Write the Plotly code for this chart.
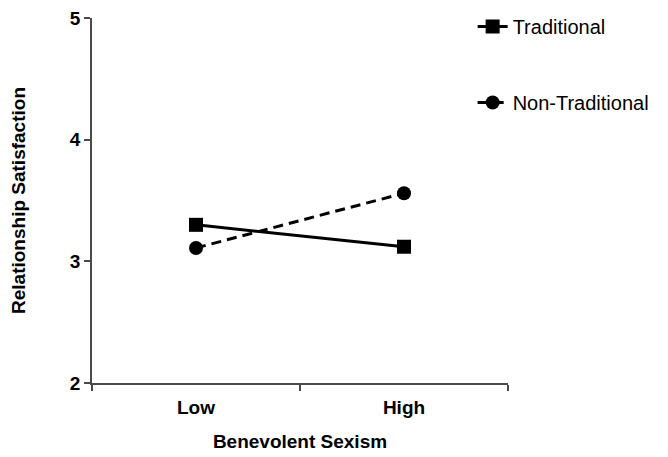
import plotly.graph_objects as go

categories = ["Low", "High"]
traditional = [3.30, 3.12]
non_traditional = [3.11, 3.56]
y_ticks = [2, 3, 4, 5]

FONT = "Liberation Sans, Arial, sans-serif"
AXIS_COLOR = "#4a4a4a"

fig = go.Figure()
fig.add_trace(go.Scatter(
    x=categories, y=traditional, name="Traditional", mode="lines+markers",
    line=dict(color="black", width=3),
    marker=dict(symbol="square", size=14, color="black"),
    legendgroup="a",
))
fig.add_trace(go.Scatter(
    x=categories, y=non_traditional, name="Non-Traditional", mode="lines+markers",
    line=dict(color="black", width=3, dash="10px,6px"),
    marker=dict(symbol="circle", size=14, color="black"),
    legendgroup="b",
))

fig.update_layout(
    width=660, height=449,
    margin=dict(l=84, r=160, t=10, b=74, autoexpand=False),
    paper_bgcolor="white", plot_bgcolor="white",
    font=dict(family=FONT, color="black"),
    showlegend=True,
    legend=dict(
        x=0.915, y=1.03, xanchor="left", yanchor="top",
        font=dict(size=20, family=FONT, color="black"),
        tracegroupgap=47, bgcolor="rgba(0,0,0,0)",
    ),
    xaxis=dict(
        type="category", range=[-0.5, 1.5], tickson="boundaries",
        automargin=False,
        showline=True, linecolor=AXIS_COLOR, linewidth=1.5,
        ticks="outside", ticklen=6, tickcolor=AXIS_COLOR, tickwidth=1.5,
        ticklabelstandoff=6,
        showgrid=False, zeroline=False,
        tickfont=dict(size=19, family=FONT, color="black", weight="bold"),
        title=dict(text="<b>Benevolent Sexism</b>", font=dict(size=19, family=FONT), standoff=18),
    ),
    yaxis=dict(
        range=[2, 5], tickvals=y_ticks,
        automargin=False, ticklabeloverflow="allow",
        showline=True, linecolor=AXIS_COLOR, linewidth=1.5,
        ticks="outside", ticklen=6, tickcolor=AXIS_COLOR, tickwidth=1.5,
        showgrid=False, zeroline=False,
        tickfont=dict(size=19, family=FONT, color="black", weight="bold"),
        title=dict(text="<b>Relationship Satisfaction</b>", font=dict(size=19, family=FONT), standoff=44),
    ),
)

fig.write_html("out.html")
